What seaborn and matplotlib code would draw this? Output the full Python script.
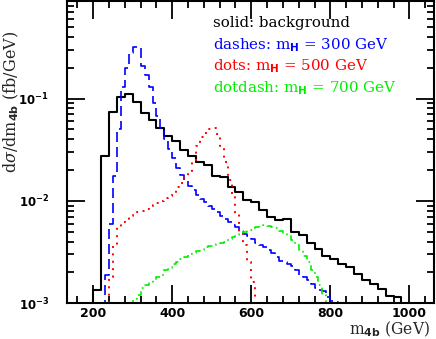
import numpy as np
import pandas as pd
import matplotlib
matplotlib.use("Agg")
import matplotlib.pyplot as plt
import seaborn as sns
from matplotlib.ticker import MultipleLocator, LogLocator, NullFormatter

# background, 20 GeV bins starting at 200 GeV
bkg_start, bkg_width = 200, 20
bkg_vals = [0.00133, 0.0272, 0.074, 0.104, 0.112, 0.0927, 0.0723, 0.0614, 0.0515, 0.0427,
            0.0382, 0.0317, 0.0272, 0.024, 0.0222, 0.0174, 0.0171, 0.0136, 0.0122, 0.0103,
            0.0097, 0.0082, 0.00695, 0.00644, 0.0067, 0.00496, 0.00459, 0.00387, 0.0034, 0.00286,
            0.00272, 0.00239, 0.00225, 0.00194, 0.0017, 0.00155, 0.00138, 0.00116, 0.00115]

# signals, 10 GeV bins
h300_start = 230
h300_vals = [0.0019, 0.006, 0.0174, 0.05, 0.13, 0.2, 0.28, 0.32, 0.32, 0.21,
             0.17, 0.13, 0.09, 0.068, 0.052, 0.04, 0.032, 0.026, 0.021, 0.018,
             0.016, 0.014, 0.0128, 0.0115, 0.0105, 0.0098, 0.009, 0.0083, 0.0078, 0.0071,
             0.0067, 0.0062, 0.0058, 0.0055, 0.0051, 0.0047, 0.0045, 0.0042, 0.0039, 0.0037,
             0.0035, 0.0033, 0.0031, 0.0028, 0.0026, 0.0025, 0.0024, 0.0023, 0.0021, 0.0019,
             0.0018, 0.0017, 0.00155, 0.0014, 0.00135, 0.0013, 0.00115, 0.00105, 0.00102]

h500_start = 240
h500_vals = [0.0018, 0.0036, 0.0055, 0.0062, 0.0067, 0.0071, 0.0074, 0.0077, 0.008, 0.0084,
             0.0088, 0.0092, 0.0096, 0.01, 0.0106, 0.0112, 0.012, 0.0135, 0.0148, 0.017,
             0.0195, 0.025, 0.034, 0.042, 0.046, 0.05, 0.052, 0.045, 0.034, 0.024,
             0.016, 0.011, 0.0075, 0.005, 0.0037, 0.0025, 0.0016]

h700_start = 300
h700_vals = [0.0011, 0.0012, 0.0014, 0.0015, 0.0016, 0.0017, 0.0018, 0.0019, 0.0021, 0.0022,
             0.0024, 0.0025, 0.0027, 0.0028, 0.003, 0.0031, 0.0032, 0.0033, 0.0035, 0.0036,
             0.0037, 0.0038, 0.0039, 0.004, 0.0042, 0.0044, 0.0046, 0.0047, 0.0049, 0.0051,
             0.0052, 0.0055, 0.0057, 0.0058, 0.0057, 0.0056, 0.0054, 0.0051, 0.0048, 0.0045,
             0.0041, 0.0037, 0.0033, 0.0029, 0.0025, 0.0021, 0.0018, 0.0015, 0.0012]
sig_width = 10

labels = ["solid: background",
          r"dashes: m$_{\mathbf{H}}$ = 300 GeV",
          r"dots: m$_{\mathbf{H}}$ = 500 GeV",
          r"dotdash: m$_{\mathbf{H}}$ = 700 GeV"]
colors = ["black", "#0000ff", "#ff0000", "#00ee00"]

FLOOR = 1e-6  # empty bins outside the histogram


def step_frame(start, width, vals):
    edges = start + width * np.arange(len(vals) + 1)
    y = [FLOOR] + list(vals) + [FLOOR]
    x = [edges[0]] + list(edges)
    return pd.DataFrame({"m": x, "y": y})


sns.set_style("ticks")
plt.rcParams["mathtext.fontset"] = "custom"
plt.rcParams["mathtext.rm"] = "DejaVu Serif"
plt.rcParams["mathtext.it"] = "DejaVu Serif:italic"
plt.rcParams["mathtext.bf"] = "DejaVu Sans:bold"

fig = plt.figure(figsize=(4.36, 3.39), dpi=100)
ax = fig.add_axes([0.154, 0.106, 0.842, 0.891])

series = [
    (bkg_start, bkg_width, bkg_vals, "-", 1.5),
    (h300_start, sig_width, h300_vals, (0, (6, 3)), 1.2),
    (h500_start, sig_width, h500_vals, (0, (1, 2.8)), 1.4),
    (h700_start, sig_width, h700_vals, (0, (4, 2.5, 1, 2.5)), 1.2),
]
for (start, width, vals, ls, lw), col in zip(series, colors):
    df = step_frame(start, width, vals)
    sns.lineplot(data=df, x="m", y="y", ax=ax, color=col, linestyle=ls, linewidth=lw,
                 drawstyle="steps-post", sort=False, estimator=None)

ax.set_yscale("log")
ax.set_xlim(134, 1063)
ax.set_ylim(1e-3, 0.9)

ax.xaxis.set_major_locator(MultipleLocator(200))
ax.xaxis.set_minor_locator(MultipleLocator(40))
ax.yaxis.set_major_locator(LogLocator(base=10, numticks=10))
ax.yaxis.set_minor_locator(LogLocator(base=10, subs=np.arange(2, 10), numticks=20))
ax.yaxis.set_minor_formatter(NullFormatter())
ax.tick_params(which="both", direction="in", top=True, right=True, width=1.3, colors="black")
ax.tick_params(which="major", length=13)
ax.tick_params(axis="x", which="major", pad=3, labelsize=9)
ax.tick_params(axis="y", which="major", pad=13, labelsize=8.5)
ax.tick_params(which="minor", length=5)
for lab in ax.get_xticklabels() + ax.get_yticklabels():
    lab.set_fontweight("bold")
for sp in ax.spines.values():
    sp.set_linewidth(1.5)
    sp.set_color("black")

ax.set_xlabel("")
ax.set_ylabel("")
fig.text(0.027, 0.70, r"d$\sigma$/dm$_{\mathbf{4b}}$ (fb/GeV)", rotation=90,
         ha="center", va="center", family="DejaVu Serif", fontsize=11.5)
fig.text(0.986, 0.013, r"m$_{\mathbf{4b}}$ (GeV)", ha="right", va="baseline",
         family="DejaVu Serif", fontsize=11.2)

for i, (txt, col) in enumerate(zip(labels, colors)):
    ax.text(0.398, 0.927 - i * 0.072, txt, color=col, transform=ax.transAxes,
            ha="left", va="center", family="DejaVu Serif", fontsize=10.8)

fig.savefig("out.png", dpi=100)
